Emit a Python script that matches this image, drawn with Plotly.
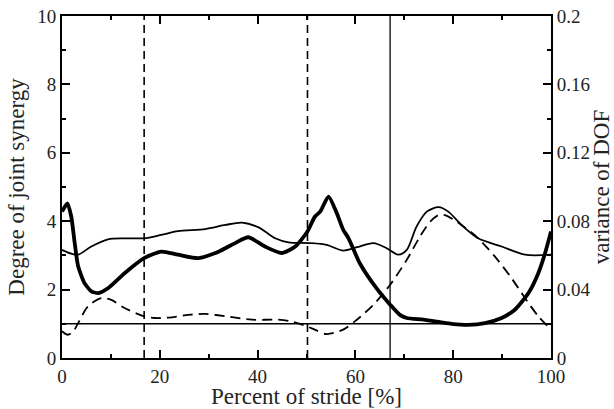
import plotly.graph_objects as go

# Degree of joint synergy (thick solid, left axis)
syn_x = [0, 1.1, 1.9, 2.6, 3.3, 4.6, 6.0, 7.4, 9.4, 12.8, 16.8, 20.3, 23.7, 27.9, 32, 35.4, 38.1, 41.5, 44.9, 47.7,
         50.2, 51.7, 52.8, 54.5, 56.2, 57.5, 58.6, 60.9, 64.3, 67.1, 69.1, 70.5, 73.9, 77.3, 79.7, 83.1, 86.5, 89.9,
         92.6, 95.4, 97.4, 98.8, 100]
syn_y = [4.28, 4.52, 4.13, 3.36, 2.68, 2.19, 1.95, 1.90, 2.04, 2.48, 2.92, 3.11, 3.02, 2.92, 3.11, 3.36, 3.53, 3.26,
         3.07, 3.26, 3.70, 4.13, 4.28, 4.72, 4.23, 3.75, 3.50, 2.77, 2.04, 1.56, 1.26, 1.17, 1.12, 1.05, 1.00, 0.97,
         1.02, 1.17, 1.41, 1.90, 2.48, 3.07, 3.70]

# Thin solid curve (left axis)
thin_x = [0, 1.9, 3.3, 6.0, 9.4, 12.8, 16.8, 20.3, 23.7, 29.3, 33.4, 36.8, 40.2, 43.6, 46.3, 50.7, 54.1, 57.5, 60.3,
          63.7, 66.4, 68.8, 70.5, 72.5, 74.6, 77.0, 79, 81.7, 85.1, 89.9, 94.7, 100]
thin_y = [3.16, 3.05, 3.02, 3.26, 3.47, 3.50, 3.50, 3.60, 3.71, 3.77, 3.89, 3.96, 3.82, 3.50, 3.38, 3.36, 3.31, 3.14,
          3.24, 3.36, 3.21, 3.02, 3.16, 3.84, 4.28, 4.41, 4.28, 3.89, 3.50, 3.26, 3.02, 3.02]

# Variance of DOF (dashed, right axis)
var_x = [0, 1.2, 2.3, 3.3, 5.3, 8.1, 10.1, 12.8, 16.8, 19, 22.4, 25.8, 29.3, 33.4, 38.8, 44.2, 46.9, 50.2, 51.7, 54.1,
         57.5, 60.3, 63.7, 67.1, 70.5, 73.2, 75.3, 77, 78.3, 81.7, 85.1, 88.5, 91.9, 94.7, 97.4, 100]
var_y = [0.0156, 0.0136, 0.0156, 0.0204, 0.0302, 0.0350, 0.0340, 0.0292, 0.0244, 0.0234, 0.0238, 0.0252, 0.0258,
         0.0244, 0.0224, 0.0224, 0.0214, 0.0184, 0.0166, 0.0140, 0.0166, 0.0224, 0.0312, 0.0428, 0.0574, 0.0710,
         0.0798, 0.0836, 0.0836, 0.0778, 0.0700, 0.0594, 0.0468, 0.0350, 0.0244, 0.0166]

x_ticks = [0, 20, 40, 60, 80, 100]
y_ticks = [0, 2, 4, 6, 8, 10]
y2_ticks = [0, 0.04, 0.08, 0.12, 0.16, 0.2]
y2_labels = ["0", "0.04", "0.08", "0.12", "0.16", "0.2"]

dashed_events = [16.8, 50.2]
solid_events = [67.1]
threshold = 1.0

fig = go.Figure()
for v in dashed_events:
    fig.add_trace(go.Scatter(x=[v, v], y=[0, 10], mode="lines",
                             line=dict(color="black", width=1.6, dash="8px,5px")))
for v in solid_events:
    fig.add_trace(go.Scatter(x=[v, v], y=[0, 10], mode="lines",
                             line=dict(color="#333333", width=1.6)))
fig.add_trace(go.Scatter(x=[0, 100], y=[threshold, threshold], mode="lines",
                         line=dict(color="black", width=1.4)))
fig.add_trace(go.Scatter(x=thin_x, y=thin_y, mode="lines",
                         line=dict(color="black", width=1.8, shape="spline", smoothing=0.8)))
fig.add_trace(go.Scatter(x=var_x, y=var_y, mode="lines", yaxis="y2",
                         line=dict(color="black", width=1.8, dash="10px,6px", shape="spline", smoothing=0.8)))
fig.add_trace(go.Scatter(x=syn_x, y=syn_y, mode="lines",
                         line=dict(color="black", width=3.8, shape="spline", smoothing=0.6)))

fig.update_layout(
    template="simple_white",
    width=614, height=409,
    margin=dict(l=62, r=63, t=16, b=51, autoexpand=False),
    showlegend=False,
    font=dict(family="Liberation Serif", size=19),
    xaxis=dict(range=[0, 100], tickvals=x_ticks, ticks="inside", ticklen=8, tickwidth=1.5, tickcolor="black",
               minor=dict(dtick=10, ticks="inside", ticklen=4, tickwidth=1.5, tickcolor="black"),
               showline=True, linecolor="black", linewidth=2, mirror="ticks", automargin=False,
               title=dict(text="Percent of stride [%]", standoff=5)),
    yaxis=dict(range=[0, 10], tickvals=y_ticks, ticks="inside", ticklen=8, tickwidth=1.5, tickcolor="black",
               minor=dict(dtick=1, ticks="inside", ticklen=4, tickwidth=1.5, tickcolor="black"),
               showline=True, linecolor="black", linewidth=2, automargin=False,
               title=dict(text="Degree of joint synergy", standoff=6)),
    yaxis2=dict(range=[0, 0.2], tickvals=y2_ticks, ticktext=y2_labels,
                ticks="inside", ticklen=8, tickwidth=1.5, tickcolor="black",
                minor=dict(tickvals=[0.02, 0.06, 0.1, 0.14, 0.18], ticks="inside", ticklen=4, tickwidth=1.5,
                           tickcolor="black"),
                overlaying="y", side="right", anchor="x",
                showline=True, linecolor="black", linewidth=2, automargin=False,
                title=dict(text="variance of DOF", standoff=4)),
)

fig.write_html("out.html")
